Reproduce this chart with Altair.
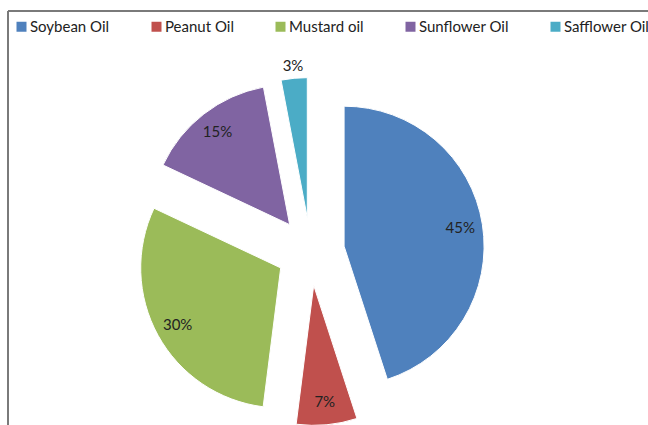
import altair as alt
import pandas as pd

categories = ["Soybean Oil", "Peanut Oil", "Mustard oil", "Sunflower Oil", "Safflower Oil"]
values = [45, 7, 30, 15, 3]
labels = ["45%", "7%", "30%", "15%", "3%"]
colors = ["#4F81BD", "#C0504D", "#9BBB59", "#8064A2", "#4BACC6"]

df = pd.DataFrame({
    "category": categories,
    "value": values,
    "label": labels,
    "order": list(range(len(categories))),
})

CX, CY = 310.5, 251.5   # pie centre (px)
R = 140                 # pie radius (px)
D = 34                  # explosion distance (px)
FONT = "Lato"

base = alt.Chart(df).transform_joinaggregate(
    total="sum(value)"
).transform_window(
    cum="sum(value)", sort=[alt.SortField("order")], frame=[None, 0]
).transform_calculate(
    start="(datum.cum - datum.value) / datum.total * 2 * PI",
    end="datum.cum / datum.total * 2 * PI",
).transform_calculate(
    mid="(datum.start + datum.end) / 2"
).transform_calculate(
    cx=f"{CX} + {D} * sin(datum.mid)",
    cy=f"{CY} - {D} * cos(datum.mid)",
    lr=f"datum.value < 5 ? {R} + 12 : {R} * 0.84",
).transform_calculate(
    lx="datum.cx + datum.lr * sin(datum.mid)",
    ly="datum.cy - datum.lr * cos(datum.mid)",
)

arcs = base.mark_arc(outerRadius=R, stroke="white", strokeWidth=1).encode(
    theta=alt.Theta("start:Q", scale=None, stack=None),
    theta2="end:Q",
    x=alt.X("cx:Q", scale=None),
    y=alt.Y("cy:Q", scale=None),
    color=alt.Color(
        "category:N",
        scale=alt.Scale(domain=categories, range=colors),
        legend=alt.Legend(
            title=None, orient="none", legendX=14, legendY=19,
            direction="horizontal", symbolType="square", symbolSize=100,
            symbolStrokeWidth=0, labelFont=FONT, labelFontSize=15,
            labelColor="#222222", columnPadding=39, labelOffset=1,
            padding=0, labelLimit=300,
        ),
    ),
)

texts = base.mark_text(font=FONT, fontSize=15, color="#222222").encode(
    x=alt.X("lx:Q", scale=None),
    y=alt.Y("ly:Q", scale=None),
    text="label:N",
)

frame_top = alt.Chart(df).mark_rule(color="#777777", strokeWidth=1).encode(
    x=alt.value(8), x2=alt.value(648), y=alt.value(11)
)
frame_left = alt.Chart(df).mark_rule(color="#777777", strokeWidth=1).encode(
    x=alt.value(8), y=alt.value(11), y2=alt.value(425)
)

chart = alt.layer(frame_top, frame_left, arcs, texts).properties(
    width=648, height=425, padding=0, autosize=alt.AutoSizeParams(type="none"),
    background="white",
).configure_view(stroke=None)

chart.save("out.html", embed_options={"renderer": "svg", "actions": False})
